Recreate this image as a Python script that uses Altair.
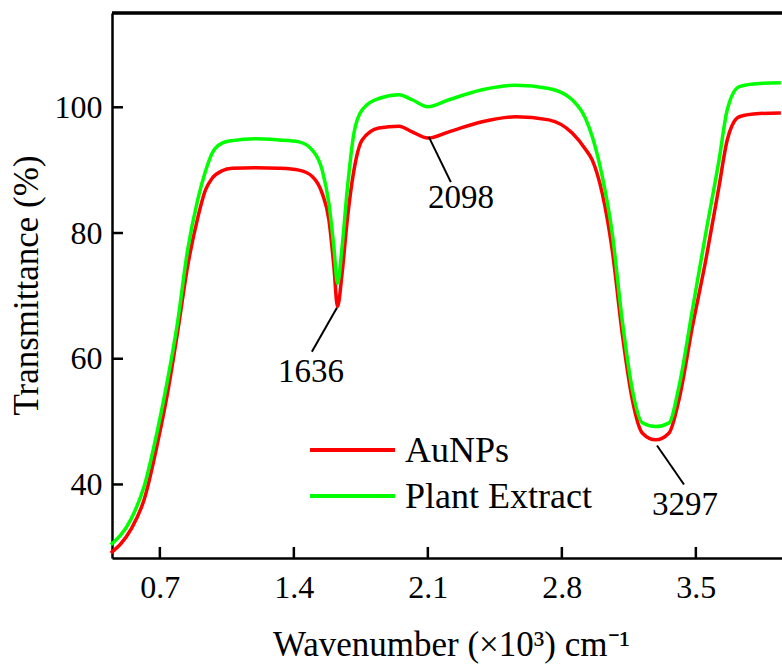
import altair as alt
import pandas as pd

# ---- data (wavenumber in 10^3 cm^-1) ----
wavenumber = [0.444, 0.548, 0.618, 0.688, 0.740, 0.792, 0.845, 0.897, 0.939, 0.973,
              1.025, 1.078, 1.200, 1.322, 1.426, 1.496, 1.548, 1.583, 1.609, 1.628,
              1.652, 1.679, 1.714, 1.757, 1.844, 1.949, 2.018, 2.100, 2.210, 2.384,
              2.558, 2.732, 2.854, 2.924, 2.959, 3.011, 3.063, 3.115, 3.168, 3.220,
              3.290, 3.360, 3.412, 3.482, 3.552, 3.621, 3.664, 3.727, 3.831, 3.944]
aunps = [29.1, 32.8, 37.6, 46.6, 54.5, 64.1, 74.7, 82.3, 86.9, 88.7,
         89.9, 90.3, 90.4, 90.3, 90.0, 89.0, 86.3, 82.1, 74.7, 68.3,
         73.6, 82.1, 90.0, 94.8, 96.7, 97.0, 96.1, 95.1, 96.1, 97.7,
         98.5, 98.0, 95.9, 93.3, 91.6, 86.3, 77.3, 64.1, 53.5, 48.2,
         47.1, 48.2, 53.5, 65.1, 75.7, 87.4, 94.8, 98.5, 99.0, 99.1]
plant = [30.4, 34.4, 39.7, 48.7, 56.6, 65.7, 77.3, 85.2, 89.9, 92.7,
         94.3, 94.7, 95.0, 94.8, 94.5, 93.2, 90.0, 84.7, 77.8, 72.0,
         77.8, 86.9, 95.9, 99.6, 101.4, 102.0, 101.2, 100.1, 101.2, 102.8,
         103.5, 103.0, 101.2, 98.2, 95.3, 89.0, 80.0, 66.2, 55.1, 49.8,
         49.2, 49.8, 55.6, 67.8, 80.0, 91.6, 99.6, 103.3, 103.8, 103.9]

series_names = ["AuNPs", "Plant Extract"]
series_colors = ["#ff0000", "#00ff00"]

x_ticks = [0.7, 1.4, 2.1, 2.8, 3.5]
y_ticks = [40, 60, 80, 100]

peak_labels = ["1636", "2098", "3297"]
peak_x = [1.625, 2.105, 3.297]
peak_y = [68.1, 95.3, 46.2]
lead_x = [1.494, 2.220, 3.438]
lead_y = [61.1, 88.1, 40.0]
text_x = [1.489, 2.273, 3.443]
text_y = [57.9, 85.6, 36.8]

# ---- tables ----
df = pd.concat([
    pd.DataFrame({"x": wavenumber, "T": aunps, "series": series_names[0], "o": 0}),
    pd.DataFrame({"x": wavenumber, "T": plant, "series": series_names[1], "o": 1}),
])
ann = pd.DataFrame({"label": peak_labels, "px": peak_x, "py": peak_y,
                    "lx": lead_x, "ly": lead_y, "tx": text_x, "ty": text_y})
xt = pd.DataFrame({"v": x_ticks})
yt = pd.DataFrame({"v": y_ticks})

W, H = 670, 545
FONT = "Liberation Serif"
xs = alt.Scale(domain=[0.45, 3.95], nice=False, zero=False)
ys = alt.Scale(domain=[28.3, 115], nice=False, zero=False)

x_axis = alt.Axis(values=x_ticks, format=".1f", ticks=False, tickSize=0, grid=False,
                  labelPadding=14, title="Wavenumber (×10³) cm⁻¹",
                  titleX=339, titleY=97, titleBaseline="alphabetic", titleAlign="center")
y_axis = alt.Axis(values=y_ticks, format="d", ticks=False, tickSize=0, grid=False,
                  labelPadding=10, title="Transmittance (%)",
                  titleX=-75, titleY=272, titleAngle=270, titleBaseline="alphabetic",
                  titleAlign="center")
color = alt.Color("series:N", scale=alt.Scale(domain=series_names, range=series_colors),
                  legend=None)

lines = alt.Chart(df).mark_line(strokeWidth=3.5, interpolate="monotone").encode(
    x=alt.X("x:Q", scale=xs, axis=x_axis),
    y=alt.Y("T:Q", scale=ys, axis=y_axis),
    color=color,
    order=alt.Order("o:Q"),
)

yticks = alt.Chart(yt).mark_rule(color="black", strokeWidth=2.5).encode(
    y=alt.Y("v:Q", scale=ys, axis=y_axis), x=alt.value(0), x2=alt.value(11))
xticks = alt.Chart(xt).mark_rule(color="black", strokeWidth=2.5).encode(
    x=alt.X("v:Q", scale=xs, axis=x_axis), y=alt.value(H), y2=alt.value(H - 11))
top = alt.Chart(xt).mark_rule(color="black", strokeWidth=2.5).encode(
    x=alt.value(0), x2=alt.value(W), y=alt.value(0))

leaders = alt.Chart(ann).mark_rule(color="black", strokeWidth=2).encode(
    x=alt.X("px:Q", scale=xs, axis=x_axis), y=alt.Y("py:Q", scale=ys, axis=y_axis),
    x2="lx:Q", y2="ly:Q")
labels = alt.Chart(ann).mark_text(font=FONT, fontSize=33, color="black",
                                  align="center", baseline="middle").encode(
    x=alt.X("tx:Q", scale=xs, axis=x_axis), y=alt.Y("ty:Q", scale=ys, axis=y_axis),
    text="label:N")

# manual legend (one row per series)
legend_layers = []
row_y = [437, 483]
for name, ry in zip(series_names, row_y):
    ld = pd.DataFrame({"series": [name]})
    legend_layers.append(alt.Chart(ld).mark_rule(strokeWidth=4).encode(
        x=alt.value(198), x2=alt.value(283), y=alt.value(ry), color=color))
    legend_layers.append(alt.Chart(ld).mark_text(
        font=FONT, fontSize=36, color="black", align="left", baseline="middle").encode(
        x=alt.value(293), y=alt.value(ry + 1), text="series:N"))

chart = alt.layer(lines, leaders, labels, yticks, xticks, top, *legend_layers).properties(
    width=W, height=H,
    padding={"left": 112, "top": 13, "right": 0, "bottom": 108},
    autosize=alt.AutoSizeParams(type="none"),
).configure_view(stroke=None).configure_axis(
    labelFont=FONT, labelFontSize=32, labelColor="black",
    titleFont=FONT, titleFontSize=35, titleFontWeight="normal", titleColor="black",
    domainColor="black", domainWidth=2.5,
)

chart.save("out.html", embed_options={"renderer": "svg", "actions": False})
